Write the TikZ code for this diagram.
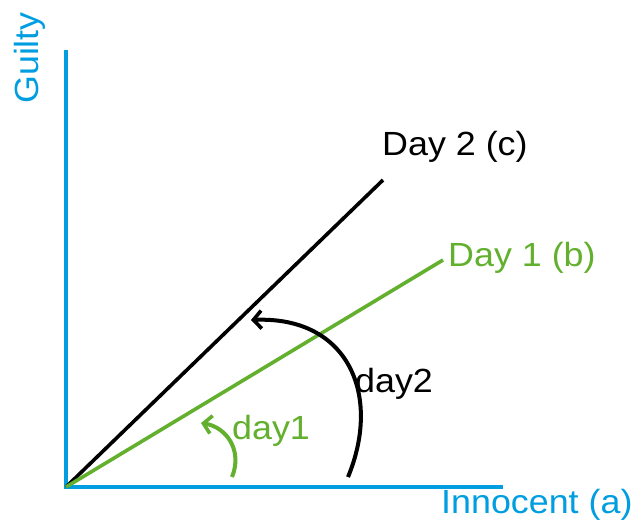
\documentclass[tikz,border=0pt]{standalone}
\usepackage{fontspec}
\setmainfont{Liberation Sans}[FakeStretch=1.07]
\usetikzlibrary{arrows.meta}
\definecolor{axblue}{RGB}{0,158,224}
\definecolor{lgreen}{RGB}{98,176,46}
\begin{document}
\begin{tikzpicture}[x=1pt,y=-1pt,
  axis/.style={draw=axblue,line width=4.5pt},
  ray/.style={line width=3.6pt},
  turn/.style={line width=4pt,-{Straight Barb[length=8pt,width=18pt,line width=3.6pt]}},
  lbl/.style={font=\fontsize{33.5}{38}\selectfont,inner sep=0pt,anchor=base west}]
\useasboundingbox (0,0) rectangle (644,530);
\coordinate (o) at (66,487);
\coordinate (ytop) at (66,50);
\coordinate (xend) at (503,487);
\coordinate (c) at (383,180);
\coordinate (b) at (443,260);
\draw[axis] (ytop) -- (o) -- (xend);
\draw[ray,black] (o) -- (c);
\draw[ray,lgreen] (o) -- (b);
\coordinate (a2s) at (348,477);
\coordinate (a2e) at (251,320);
\draw[turn,black] (a2s) .. controls (382,395) and (348,316) .. (a2e);
\coordinate (a1s) at (232,477);
\coordinate (a1e) at (201,423);
\draw[turn,lgreen] (a1s) .. controls (243,450) and (226,427) .. (a1e);
\node[lbl,text=axblue] (xl) at (441,513) {Innocent (a)};
\node[lbl,text=axblue,rotate=90] (yl) at (38,104) {Guilty};
\node[lbl,text=black] (cl) at (382,155) {Day 2 (c)};
\node[lbl,text=lgreen] (bl) at (448,266) {Day 1 (b)};
\node[lbl,text=black] (d2) at (355,392) {day2};
\node[lbl,text=lgreen] (d1) at (232,439) {day1};
\end{tikzpicture}
\end{document}
